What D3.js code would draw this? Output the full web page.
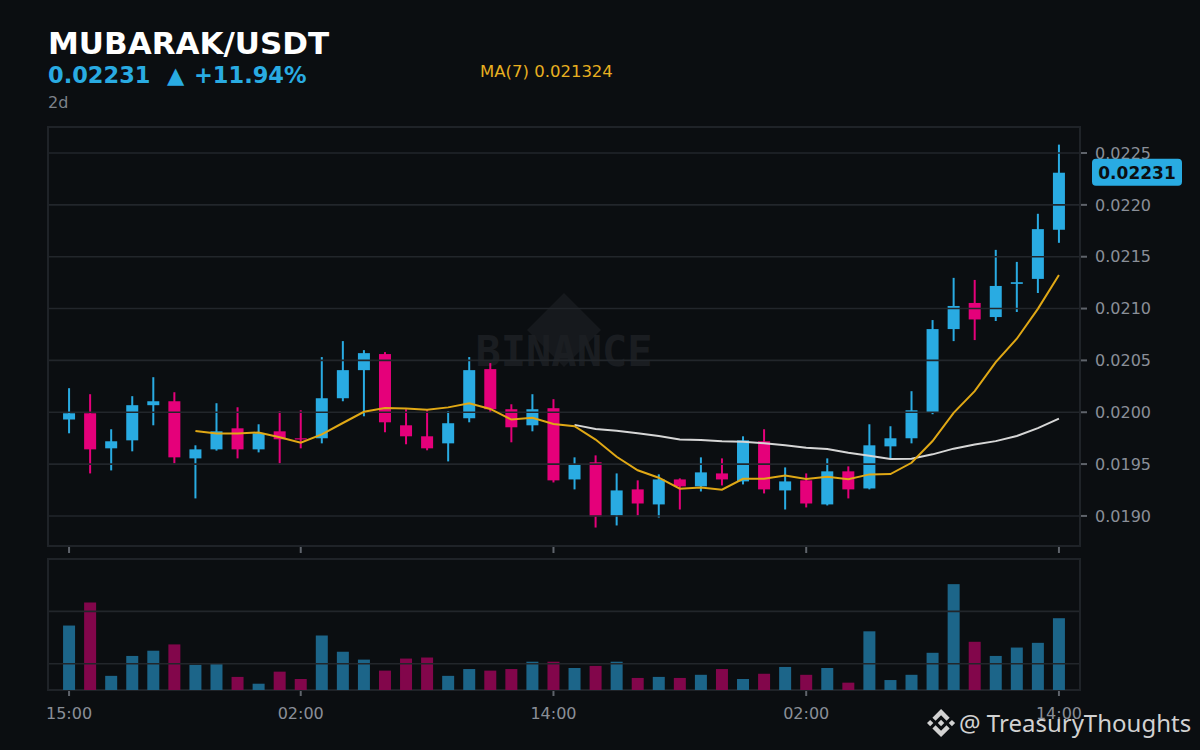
<!DOCTYPE html>
<html><head><meta charset="utf-8">
<script src="https://cdn.jsdelivr.net/npm/d3@7"></script>
<style>html,body{margin:0;padding:0;background:#0b0e11;} svg{display:block}</style>
</head><body>
<svg id="chart" width="1200" height="750"></svg>
<script>
// ---- data (hourly candles, 2 days) ----
const hours = ["15:00","16:00","17:00","18:00","19:00","20:00","21:00","22:00","23:00","00:00","01:00","02:00",
  "03:00","04:00","05:00","06:00","07:00","08:00","09:00","10:00","11:00","12:00","13:00","14:00",
  "15:00","16:00","17:00","18:00","19:00","20:00","21:00","22:00","23:00","00:00","01:00","02:00",
  "03:00","04:00","05:00","06:00","07:00","08:00","09:00","10:00","11:00","12:00","13:00","14:00"];
const opens = [0.019930,0.019990,0.019652,0.019729,0.020068,0.020106,0.019555,0.019642,0.019845,0.019642,0.019816,0.019749,
  0.019749,0.020135,0.020406,0.020561,0.019874,0.019768,0.019700,0.019942,0.020416,0.020029,0.019874,0.020039,
  0.019352,0.019517,0.019004,0.019256,0.019111,0.019352,0.019285,0.019410,0.019333,0.019720,0.019246,0.019343,
  0.019111,0.019430,0.019265,0.019671,0.019749,0.020000,0.020802,0.021054,0.020918,0.021238,0.021286,0.021760];
const highs = [0.020232,0.020174,0.019836,0.020155,0.020338,0.020193,0.019681,0.020087,0.020048,0.019884,0.020010,0.020019,
  0.020532,0.020686,0.020599,0.020580,0.020029,0.020029,0.020010,0.020532,0.020474,0.020077,0.020174,0.020126,
  0.019565,0.019584,0.019410,0.019343,0.019401,0.019362,0.019565,0.019555,0.019768,0.019836,0.019468,0.019410,
  0.019555,0.019478,0.019884,0.019865,0.020203,0.020889,0.021296,0.021276,0.021566,0.021450,0.021914,0.022581];
const lows = [0.019797,0.019410,0.019439,0.019623,0.019874,0.019507,0.019169,0.019630,0.019555,0.019613,0.019507,0.019652,
  0.019700,0.020106,0.019961,0.019807,0.019691,0.019633,0.019526,0.019903,0.020000,0.019710,0.019816,0.019323,
  0.019256,0.018888,0.018908,0.019004,0.018985,0.019062,0.019236,0.019294,0.019304,0.019217,0.019062,0.019082,
  0.019101,0.019169,0.019256,0.019555,0.019700,0.019981,0.020686,0.020696,0.020880,0.020967,0.021150,0.021634];
const closes = [0.019990,0.019642,0.019720,0.020068,0.020106,0.019565,0.019642,0.019816,0.019642,0.019797,0.019739,0.019739,
  0.020135,0.020406,0.020570,0.019903,0.019768,0.019652,0.019894,0.020406,0.020029,0.019855,0.020029,0.019343,
  0.019497,0.018995,0.019246,0.019120,0.019352,0.019285,0.019420,0.019352,0.019729,0.019256,0.019333,0.019120,
  0.019430,0.019256,0.019681,0.019749,0.020019,0.020802,0.021025,0.020895,0.021218,0.021254,0.021766,0.022310];
const volumes = [173,217,77,115,125,137,98,100,75,62,85,71,
  154,123,108,87,110,112,77,90,87,90,104,104,
  92,96,104,73,75,73,79,90,71,81,94,79,
  92,64,162,69,79,121,252,142,115,131,140,187];
const priceTicks = [0.0190,0.0195,0.0200,0.0205,0.0210,0.0215,0.0220,0.0225];
const timeTickIndex = [0,11,23,35,47];
const volumeGrid = [100,200];
const pair = "MUBARAK/USDT";
const period = "2d";

// ---- setup ----
const W = 1200, H = 750;
const left = 48, right = 1080;
const pTop = 127, pBot = 546, vTop = 559, vBot = 690;
const UP = "#29abe2", DOWN = "#e5007a";
const UPV = "#1c6589", DOWNV = "#82064b";
const GRID = "#22262b", BORDER = "#1f2328", TXT = "#8a8f98", TICK = "#5f646b";
const n = closes.length;
const idx = d3.range(n);

const svg = d3.select("#chart");
svg.append("rect").attr("width", W).attr("height", H).attr("fill", "#0b0e11");

const x = d3.scalePoint().domain(idx).range([left, right]).padding(1);
const y = d3.scaleLinear().domain([0.01871, 0.022751]).range([pBot, pTop]);
const yv = d3.scaleLinear().domain([50, 300]).range([vBot, vTop]);

function ma(period) {
  return idx.map(i => i < period - 1 ? null : d3.mean(closes.slice(i - period + 1, i + 1)));
}
const ma7 = ma(7), ma25 = ma(25);

// price panel
svg.append("rect").attr("x", left).attr("y", pTop).attr("width", right - left).attr("height", pBot - pTop)
  .attr("fill", "#0b0e11").attr("stroke", BORDER).attr("stroke-width", 2);

// watermark
const wm = svg.append("g");
const cx = (left + right) / 2, cy = 330;
wm.append("path").attr("d", `M${cx},${cy-37} L${cx+37},${cy} L${cx},${cy+37} L${cx-37},${cy} Z`).attr("fill", "#16191d");
wm.append("text").attr("x", cx).attr("y", 366).attr("text-anchor", "middle")
  .attr("font-family", "DejaVu Sans Mono").attr("font-weight", "bold").attr("font-size", 42)
  .attr("fill", "#1c1f23").attr("fill-opacity", 0.95).text("BINANCE");

// candles
const cg = svg.append("g");
const bw = 12;
idx.forEach(i => {
  const up = closes[i] >= opens[i];
  const col = up ? UP : DOWN;
  cg.append("rect").attr("x", x(i) - 1).attr("width", 2)
    .attr("y", y(highs[i])).attr("height", y(lows[i]) - y(highs[i])).attr("fill", col);
  const top = y(Math.max(opens[i], closes[i])), bot = y(Math.min(opens[i], closes[i]));
  cg.append("rect").attr("x", x(i) - bw / 2).attr("width", bw)
    .attr("y", top).attr("height", Math.max(1.2, bot - top)).attr("fill", col);
});

// price grid (drawn over candles)
svg.append("g").selectAll("line").data(priceTicks).join("line")
  .attr("x1", left + 1).attr("x2", right - 1).attr("y1", d => y(d)).attr("y2", d => y(d))
  .attr("stroke", GRID).attr("stroke-width", 1.6);

// moving averages
const line = d3.line().defined(d => d[1] != null).x(d => x(d[0])).y(d => y(d[1]));
svg.append("path").attr("d", line(idx.map(i => [i, ma25[i]]))).attr("fill", "none")
  .attr("stroke", "#d6d6d6").attr("stroke-width", 2);
svg.append("path").attr("d", line(idx.map(i => [i, ma7[i]]))).attr("fill", "none")
  .attr("stroke", "#e0a815").attr("stroke-width", 2);

// y axis (right)
const ya = svg.append("g");
priceTicks.forEach(t => {
  ya.append("line").attr("x1", right + 1).attr("x2", right + 7).attr("y1", y(t)).attr("y2", y(t))
    .attr("stroke", TICK).attr("stroke-width", 2);
  ya.append("text").attr("x", 1095).attr("y", y(t)).attr("dy", "0.36em")
    .attr("font-family", "DejaVu Sans").attr("font-size", 16).attr("fill", TXT).text(t.toFixed(4));
});

// x ticks under price panel
timeTickIndex.forEach(i => {
  svg.append("line").attr("x1", x(i)).attr("x2", x(i)).attr("y1", pBot + 1).attr("y2", pBot + 7)
    .attr("stroke", TICK).attr("stroke-width", 2);
});

// volume panel
svg.append("rect").attr("x", left).attr("y", vTop).attr("width", right - left).attr("height", vBot - vTop)
  .attr("fill", "#0b0e11").attr("stroke", BORDER).attr("stroke-width", 2);
svg.append("g").selectAll("rect").data(idx).join("rect")
  .attr("x", i => x(i) - bw / 2).attr("width", bw)
  .attr("y", i => yv(volumes[i])).attr("height", i => vBot - yv(volumes[i]))
  .attr("fill", i => closes[i] >= opens[i] ? UPV : DOWNV);
svg.append("g").selectAll("line").data(volumeGrid).join("line")
  .attr("x1", left + 1).attr("x2", right - 1).attr("y1", d => yv(d)).attr("y2", d => yv(d))
  .attr("stroke", GRID).attr("stroke-width", 1.6);

// x axis under volume
timeTickIndex.forEach(i => {
  svg.append("line").attr("x1", x(i)).attr("x2", x(i)).attr("y1", vBot + 1).attr("y2", vBot + 6)
    .attr("stroke", TICK).attr("stroke-width", 2);
  svg.append("text").attr("x", x(i)).attr("y", 719).attr("text-anchor", "middle")
    .attr("font-family", "DejaVu Sans").attr("font-size", 16).attr("fill", TXT).text(hours[i]);
});

// last price badge
const last = closes[n - 1];
svg.append("rect").attr("x", 1092).attr("y", y(last) - 14).attr("width", 90).attr("height", 27).attr("rx", 4)
  .attr("fill", UP);
svg.append("text").attr("x", 1137).attr("y", y(last)).attr("dy", "0.36em").attr("text-anchor", "middle")
  .attr("font-family", "DejaVu Sans").attr("font-weight", "bold").attr("font-size", 17).attr("fill", "#0b0e11")
  .text(last.toFixed(5));

// header
const chg = (closes[n - 1] / opens[0] - 1) * 100;
svg.append("text").attr("x", 48).attr("y", 54).attr("font-family", "DejaVu Sans").attr("font-weight", "bold")
  .attr("font-size", 31).attr("fill", "#ffffff").text(pair);
svg.append("text").attr("x", 48).attr("y", 83).attr("font-family", "DejaVu Sans").attr("font-weight", "bold")
  .attr("font-size", 22.5).attr("fill", UP).text(last.toFixed(5));
svg.append("text").attr("x", 167).attr("y", 83).attr("font-family", "DejaVu Sans").attr("font-weight", "bold")
  .attr("font-size", 22.5).attr("fill", UP).text("▲");
svg.append("text").attr("x", 194).attr("y", 83).attr("font-family", "DejaVu Sans").attr("font-weight", "bold")
  .attr("font-size", 22.5).attr("fill", UP).text((chg >= 0 ? "+" : "") + chg.toFixed(2) + "%");
svg.append("text").attr("x", 48).attr("y", 108).attr("font-family", "DejaVu Sans")
  .attr("font-size", 16).attr("fill", "#7d828a").text(period);
svg.append("text").attr("x", 480).attr("y", 77).attr("font-family", "DejaVu Sans")
  .attr("font-size", 16.5).attr("fill", "#e8b020").text("MA(7) " + ma7[n - 1].toFixed(6));

// bottom-right credit
const logo = "M38.73,53.2L63.3,28.63L87.89,53.22L102.19,38.92L63.3,0L24.42,38.9Z M0,63.31L14.3,49.01L28.6,63.31L14.3,77.61Z M38.73,73.41L63.3,97.98L87.89,73.39L102.2,87.68L63.3,126.61L24.42,87.72Z M98.01,63.31L112.31,49.01L126.61,63.31L112.31,77.61Z M77.81,63.3L63.3,48.78L48.79,63.28L63.3,77.8Z";
svg.append("path").attr("d", logo).attr("fill", "#d2d2d2")
  .attr("transform", "translate(927,709) scale(0.222)");
svg.append("text").attr("x", 959).attr("y", 732).attr("font-family", "Noto Sans")
  .attr("font-size", 24).attr("fill", "#d2d2d2").text("@ TreasuryThoughts");
</script>
</body></html>
